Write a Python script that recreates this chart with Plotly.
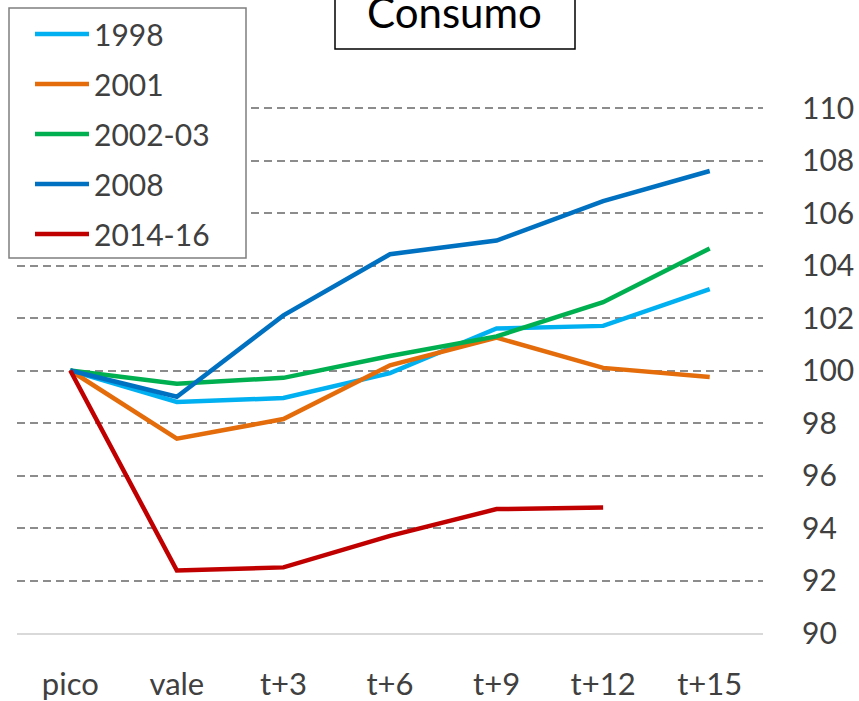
import plotly.graph_objects as go

categories = ["pico", "vale", "t+3", "t+6", "t+9", "t+12", "t+15"]
series_names = ["1998", "2001", "2002-03", "2008", "2014-16"]
s1998 = [100, 98.8, 98.95, 99.9, 101.6, 101.7, 103.1]
s2001 = [100, 97.4, 98.15, 100.2, 101.25, 100.1, 99.75]
s2002_03 = [100, 99.5, 99.72, 100.55, 101.3, 102.6, 104.65]
s2008 = [100, 99.0, 102.1, 104.43, 104.95, 106.45, 107.6]
s2014_16 = [100, 92.38, 92.5, 93.7, 94.72, 94.78, None]
yticks = [90, 92, 94, 96, 98, 100, 102, 104, 106, 108, 110]

colors = ["#00B0F0", "#E46C0A", "#00B050", "#0070C0", "#C00000"]
all_series = [s1998, s2001, s2002_03, s2008, s2014_16]

W, H = 859, 701
L, R, T, B = 17, 96, 104, 68
pw, ph = W - L - R, H - T - B
YTOP = 90 + 20 * ph / (633 - 108)  # keep 110 gridline at y=108 while drawing it

def px_x(x):
    return (x - L) / pw

def px_y(y):
    return (H - B - y) / ph

FONT = "Lato"
TXT = "#404040"

fig = go.Figure()
for i, (name, vals) in enumerate(zip(series_names, all_series)):
    fig.add_trace(go.Scatter(
        x=categories, y=vals, name=name, mode="lines",
        line=dict(color=colors[i], width=4.5),
        legendgroup=name, connectgaps=False,
    ))

fig.update_layout(
    width=W, height=H,
    margin=dict(l=L, r=R, t=T, b=B, autoexpand=False),
    paper_bgcolor="white", plot_bgcolor="white",
    font=dict(family=FONT, size=30, color=TXT),
    showlegend=True,
    legend=dict(
        x=px_x(30), y=px_y(8), xanchor="left", yanchor="top",
        borderwidth=0, bgcolor="rgba(0,0,0,0)",
        font=dict(family=FONT, size=30, color=TXT),
        traceorder="grouped", tracegroupgap=8,
        itemwidth=54,
    ),
    xaxis=dict(
        type="category", categoryorder="array", categoryarray=categories,
        range=[-0.5, len(categories) - 0.5],
        showgrid=False, zeroline=False,
        showline=True, linecolor="#d9d9d9", linewidth=2,
        ticks="", ticklabelstandoff=23,
        tickfont=dict(family=FONT, size=31, color=TXT),
    ),
    yaxis=dict(
        side="right", range=[90, YTOP],
        tickmode="array", tickvals=yticks, ticktext=[str(v) for v in yticks],
        showgrid=True, gridcolor="#8c8c8c", gridwidth=1.6, griddash="8px,5px",
        zeroline=False, showline=False, ticks="",
        ticklabelstandoff=38,
        tickfont=dict(family=FONT, size=30, color=TXT),
    ),
    shapes=[
        dict(
            type="rect", xref="paper", yref="paper",
            x0=px_x(9), x1=px_x(246), y0=px_y(258), y1=px_y(8),
            line=dict(color="#7f7f7f", width=1.5), fillcolor="white", layer="above",
        ),
        dict(
            type="rect", xref="paper", yref="paper",
            x0=px_x(335), x1=px_x(575), y0=px_y(49), y1=px_y(-10),
            line=dict(color="black", width=1.5), fillcolor="white", layer="above",
        ),
    ],
    annotations=[dict(
        text="Consumo", xref="paper", yref="paper",
        x=px_x(455), y=px_y(12), xanchor="center", yanchor="middle",
        showarrow=False, font=dict(family=FONT, size=42, color="black"),
    )],
)

fig.write_html(
    "out.html",
    config={"displayModeBar": False},
    post_script="document.body.style.margin='0';",
)
